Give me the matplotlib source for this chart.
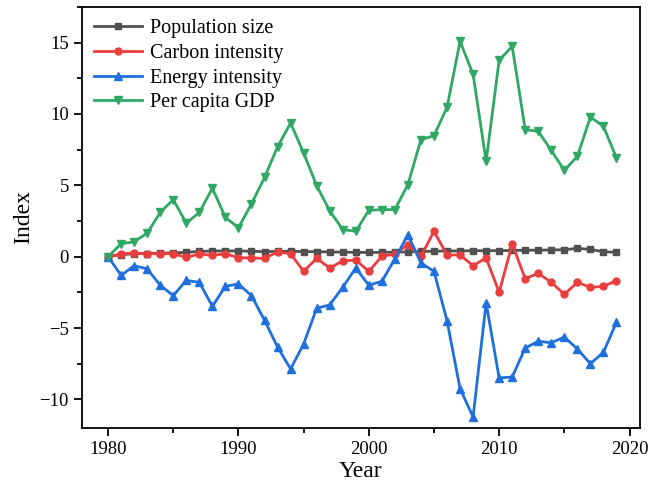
import matplotlib
matplotlib.use("Agg")
import matplotlib.pyplot as plt
from matplotlib.ticker import MultipleLocator

years = list(range(1980, 2020))

population = [0, 0.15, 0.2, 0.22, 0.25, 0.27, 0.3, 0.37, 0.4, 0.4,
              0.4, 0.38, 0.35, 0.38, 0.38, 0.36, 0.35, 0.33, 0.32, 0.3,
              0.3, 0.3, 0.32, 0.33, 0.37, 0.38, 0.4, 0.4, 0.42, 0.42,
              0.42, 0.44, 0.45, 0.46, 0.47, 0.49, 0.58, 0.51, 0.35, 0.3]

carbon = [0, 0.19, 0.26, 0.21, 0.21, 0.21, -0.05, 0.19, 0.09, 0.21,
          -0.07, -0.09, -0.12, 0.33, 0.21, -1.03, -0.12, -0.79, -0.3, -0.23,
          -1.03, 0.02, 0.19, 0.84, 0.02, 1.77, 0.12, 0.12, -0.63, -0.09,
          -2.5, 0.89, -1.54, -1.17, -1.8, -2.64, -1.8, -2.15, -2.08, -1.68]

energy = [0, -1.31, -0.63, -0.86, -2.0, -2.73, -1.66, -1.8, -3.48, -2.08,
          -1.91, -2.73, -4.46, -6.33, -7.87, -6.12, -3.62, -3.38, -2.15, -0.79,
          -2.0, -1.73, -0.16, 1.54, -0.44, -1.03, -4.48, -9.25, -11.23, -3.24,
          -8.5, -8.43, -6.4, -5.93, -6.03, -5.63, -6.47, -7.5, -6.7, -4.6]

gdp = [0, 0.9, 1.05, 1.65, 3.1, 4.0, 2.35, 3.1, 4.8, 2.75,
       2.03, 3.7, 5.55, 7.7, 9.37, 7.27, 4.98, 3.22, 1.9, 1.78,
       3.25, 3.3, 3.3, 5.05, 8.2, 8.48, 10.46, 15.09, 12.78, 6.68,
       13.76, 14.74, 8.9, 8.78, 7.45, 6.05, 7.03, 9.79, 9.13, 6.92]

plt.rcParams['font.family'] = ['Liberation Serif', 'DejaVu Serif']

fig = plt.figure(figsize=(6.51, 4.97), dpi=100)
ax = fig.add_axes([0.126, 0.139, 0.857, 0.847])

ax.plot(years, population, color='#505050', marker='s', ms=5, lw=2, label='Population size')
ax.plot(years, carbon, color='#EA3E3E', marker='o', ms=5, lw=2, label='Carbon intensity')
ax.plot(years, energy, color='#1F6FDC', marker='^', ms=5.5, lw=2, label='Energy intensity')
ax.plot(years, gdp, color='#30A865', marker='v', ms=5.5, lw=2, label='Per capita GDP')

ax.set_xlim(1978, 2020.8)
ax.set_ylim(-12, 17.5)
ax.xaxis.set_major_locator(MultipleLocator(10))
ax.xaxis.set_minor_locator(MultipleLocator(5))
ax.yaxis.set_major_locator(MultipleLocator(5))
ax.yaxis.set_minor_locator(MultipleLocator(2.5))
ax.tick_params(which='major', direction='out', length=6, width=1.3, labelsize=13.5)
ax.tick_params(which='minor', direction='out', length=3.5, width=1.3)
for s in ax.spines.values():
    s.set_linewidth(1.3)

ax.set_xlabel('Year', fontsize=17, labelpad=2)
ax.set_ylabel('Index', fontsize=17)

ax.legend(loc='upper left', frameon=False, fontsize=14.5, handlelength=2.4,
          handletextpad=0.4, labelspacing=0.28, borderaxespad=0.2)

fig.savefig('out.png', dpi=100)
